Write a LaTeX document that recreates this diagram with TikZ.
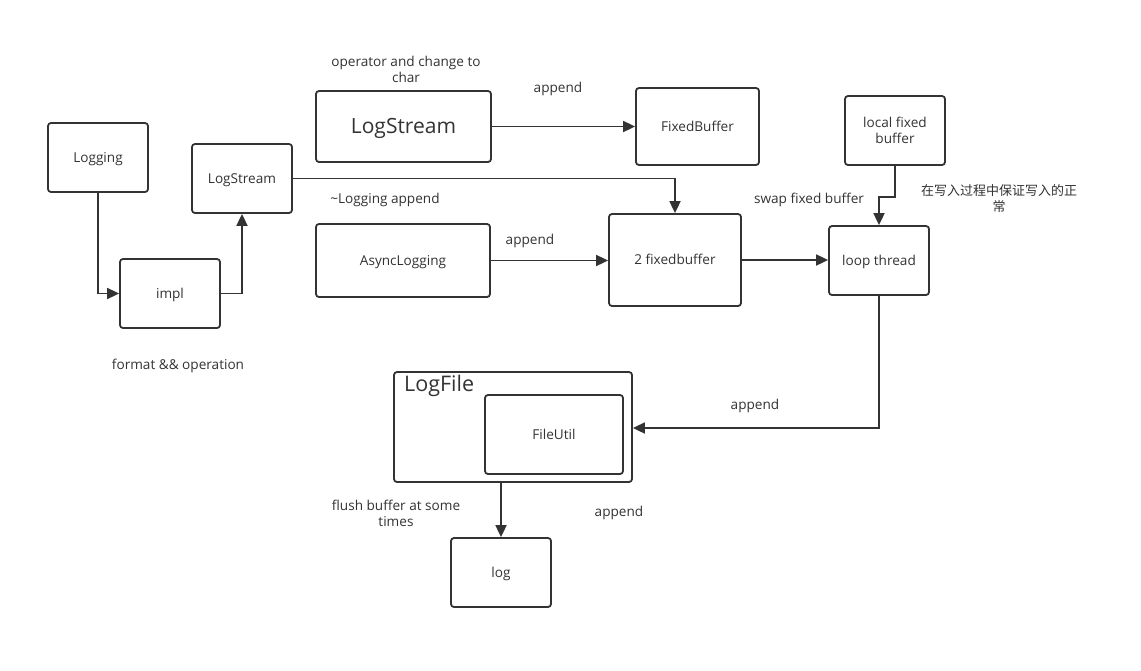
\documentclass[tikz,border=0pt]{standalone}
\usepackage{fontspec}
\setmainfont{Open Sans}
\newfontfamily\cjk{Noto Sans CJK SC}
\usetikzlibrary{arrows.meta}
\definecolor{ink}{HTML}{333333}
\tikzset{
  boxbase/.style={draw=ink, line width=1.8pt, rounded corners=3pt, inner sep=0pt, text=ink, font=\fontsize{13.6}{16}\selectfont, align=center},
  box/.style={boxbase, text height=10pt, text depth=1pt},
  lblbase/.style={text=ink, font=\fontsize{13.6}{16}\selectfont, align=center, inner sep=0pt},
  lbl/.style={lblbase, text height=10pt, text depth=1pt},
  conn/.style={draw=ink, line width=1.8pt, -{Triangle[length=12pt,width=11pt]}},
}
\begin{document}
\begin{tikzpicture}[x=1pt,y=-1pt]
\useasboundingbox[fill=white] (0,0) rectangle (1141,670);
% boxes
\node[box, minimum width=100pt, minimum height=69pt] (logging) at (98,157.5) {Logging};
\node[box, minimum width=100pt, minimum height=69pt] (impl) at (170,293.5) {impl};
\node[box, minimum width=100pt, minimum height=69pt] (ls1) at (242,178.5) {LogStream};
\node[box, minimum width=175pt, minimum height=71pt, font=\fontsize{21}{24}\selectfont, text height=15pt, text depth=1pt] (ls2) at (403.5,126.5) {LogStream};
\node[box, minimum width=123pt, minimum height=77pt] (fb) at (697.5,126.5) {FixedBuffer};
\node[box, minimum width=174pt, minimum height=73pt] (async) at (403,260.5) {AsyncLogging};
\node[box, minimum width=132pt, minimum height=92pt] (two) at (675,260) {2 fixedbuffer};
\node[boxbase, minimum width=100pt, minimum height=69pt] (local) at (895,130.5) {local fixed\\buffer};
\node[box, minimum width=100pt, minimum height=69pt] (loop) at (879,260.5) {loop thread};
\node[box, minimum width=238pt, minimum height=110pt] (logfile) at (513,427) {};
\node[lbl, anchor=north west, font=\fontsize{21.5}{24}\selectfont, text height=16pt, text depth=1pt] (logfilelbl) at (404,375) {LogFile};
\node[box, minimum width=138pt, minimum height=79pt] (fileutil) at (554,434.5) {FileUtil};
\node[box, minimum width=100pt, minimum height=69pt] (log) at (501,572.5) {log};
% labels
\node[lblbase] (t1) at (406,69) {operator and change to\\char};
\node[lbl] (t2) at (558,88) {append};
\node[lbl] (t3) at (385,199) {\textasciitilde Logging append};
\node[lbl] (t4) at (530,240) {append};
\node[lbl] (t5) at (809,199) {swap fixed buffer};
\node[lblbase, font=\cjk\fontsize{13}{16}\selectfont] (t6) at (999,199) {在写入过程中保证写入的正\\常};
\node[lbl] (t7) at (178,365) {format \&\& operation};
\node[lbl] (t8) at (755,405) {append};
\node[lblbase] (t9) at (396,513) {flush buffer at some\\times};
\node[lbl] (t10) at (619,512) {append};
% connectors
\draw[conn] (logging.south) |- (impl.west);
\draw[conn] (impl.east) -| (ls1.south);
\draw[conn] (ls1.east) -| (two.north);
\draw[conn] (ls2.east) -- (fb.west);
\draw[conn] (async.east) -- (async.east -| two.west);
\draw[conn] (two.east) -- (two.east -| loop.west);
\draw[conn] (local.south) -- ++(0,31) -| (loop.north);
\draw[conn] (loop.south) |- (logfile.east |- 0,428);
\draw[conn] (logfile.south -| log.north) -- (log.north);
\end{tikzpicture}
\end{document}
